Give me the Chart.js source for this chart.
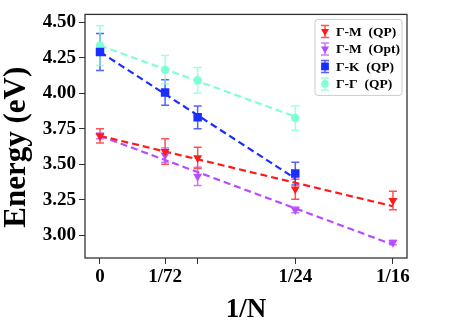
<!DOCTYPE html>
<html>
<head>
<meta charset="utf-8">
<script src="https://cdn.jsdelivr.net/npm/chart.js@4.4.1/dist/chart.umd.min.js"></script>
<style>
  html, body { margin: 0; padding: 0; background: #fff; }
  #wrap { width: 463px; height: 326px; }
</style>
</head>
<body>
<div id="wrap"><canvas id="chart" width="463" height="326"></canvas></div>
<script>
// x positions are 1/N
const nValues = [0, 1/72, 1/48, 1/24, 1/16];
const xTickValues = [0, 1/72, 1/48, 1/24, 1/16];
const xTickLabels = ['0', '1/72', '', '1/24', '1/16'];
const yTickValues = [3.00, 3.25, 3.50, 3.75, 4.00, 4.25, 4.50];

const legendLabels = ['\u0393-M  (QP)', '\u0393-M  (Opt)', '\u0393-K  (QP)', '\u0393-\u0393  (QP)'];
const yTitle = 'Energy (eV)';

// Γ-M (QP)
const gmQP = [3.70, 3.59, 3.545, 3.325, 3.245];
const gmQPErr = [0.05, 0.09, 0.075, 0.07, 0.065];
// Γ-M (Opt)
const gmOpt = [3.70, 3.565, 3.415, 3.18, 2.95];
const gmOptErr = [0.02, 0.05, 0.065, 0.02, 0.015];
// Γ-K (QP), only up to 1/24
const gkQP = [4.29, 4.005, 3.83, 3.435];
const gkQPErr = [0.13, 0.09, 0.08, 0.08];
// Γ-Γ (QP), only up to 1/24
const ggQP = [4.335, 4.165, 4.09, 3.825];
const ggQPErr = [0.14, 0.10, 0.09, 0.085];

// dashed fit lines: end points
const gmQPFitX = [0, 1/16], gmQPFit = [3.70, 3.205];
const gmOptFitX = [0, 1/16], gmOptFit = [3.70, 2.935];
const gkFitX = [0, 1/24], gkFit = [4.29, 3.40];
const ggFitX = [0, 1/24], ggFit = [4.335, 3.835];

const RED = '#ff1a1a', PURPLE = '#b84dff', BLUE = '#1a2eff', CYAN = '#80ffd6';
const SERIF = '"Liberation Serif", "DejaVu Serif", serif';

function pts(xs, ys) {
    return ys.map((y, i) => ({ x: xs[i], y: y }));
}

const series = [
    { label: legendLabels[0], data: gmQP, err: gmQPErr, color: RED, style: 'triangle', rot: 180, r: 5.2 },
    { label: legendLabels[1], data: gmOpt, err: gmOptErr, color: PURPLE, style: 'triangle', rot: 180, r: 5.2 },
    { label: legendLabels[2], data: gkQP, err: gkQPErr, color: BLUE, style: 'rect', rot: 0, r: 6 },
    { label: legendLabels[3], data: ggQP, err: ggQPErr, color: CYAN, style: 'circle', rot: 0, r: 4.3 }
];

const fits = [
    { x: gmQPFitX, y: gmQPFit, color: RED },
    { x: gmOptFitX, y: gmOptFit, color: PURPLE },
    { x: gkFitX, y: gkFit, color: BLUE },
    { x: ggFitX, y: ggFit, color: CYAN }
];

const datasets = [];
series.forEach(s => {
    datasets.push({
        label: s.label,
        data: pts(nValues, s.data),
        errors: s.err,
        backgroundColor: s.color,
        borderColor: s.color,
        borderWidth: 0,
        pointStyle: s.style,
        rotation: s.rot,
        pointRadius: s.r,
        showLine: false
    });
});
fits.forEach(f => {
    datasets.push({
        label: 'fit',
        data: pts(f.x, f.y),
        borderColor: f.color,
        borderWidth: 2.2,
        borderDash: [7, 4],
        pointRadius: 0,
        showLine: true
    });
});

function hexAlpha(hex, a) {
    const n = parseInt(hex.slice(1), 16);
    return `rgba(${n >> 16},${(n >> 8) & 255},${n & 255},${a})`;
}

function drawErrorBar(ctx, x, yTop, yBot, color) {
    ctx.save();
    ctx.strokeStyle = hexAlpha(color, 0.75);
    ctx.lineWidth = 1.5;
    ctx.beginPath();
    ctx.moveTo(x, yTop); ctx.lineTo(x, yBot);
    ctx.moveTo(x - 4, yTop); ctx.lineTo(x + 4, yTop);
    ctx.moveTo(x - 4, yBot); ctx.lineTo(x + 4, yBot);
    ctx.stroke();
    ctx.restore();
}

const errorBars = {
    id: 'errorBars',
    beforeDatasetsDraw(chart) {
        const ctx = chart.ctx;
        const xs = chart.scales.x, ys = chart.scales.y;
        chart.data.datasets.forEach(ds => {
            if (!ds.errors) return;
            ds.data.forEach((p, i) => {
                const px = xs.getPixelForValue(p.x);
                drawErrorBar(ctx, px, ys.getPixelForValue(p.y + ds.errors[i]),
                    ys.getPixelForValue(p.y - ds.errors[i]), ds.borderColor);
            });
        });
    },
    afterDraw(chart) {
        const ctx = chart.ctx;
        const a = chart.chartArea;
        ctx.save();
        ctx.strokeStyle = '#333';
        ctx.lineWidth = 1.3;
        ctx.strokeRect(a.left, a.top, a.right - a.left, a.bottom - a.top);

        // y axis title, sits a little below the middle of the plot
        ctx.save();
        ctx.translate(17, a.top + (a.bottom - a.top) / 2 + 11);
        ctx.rotate(-Math.PI / 2);
        ctx.font = 'bold 31px ' + SERIF;
        ctx.fillStyle = '#000';
        ctx.textAlign = 'center';
        ctx.textBaseline = 'middle';
        ctx.fillText(yTitle, 0, 0);
        ctx.restore();

        // legend box in the upper right of the plot
        const bx = a.right - 92, by = a.top + 5, bw = 87, bh = 76;
        ctx.strokeStyle = '#cccccc';
        ctx.lineWidth = 1;
        ctx.fillStyle = 'rgba(255,255,255,0.8)';
        ctx.beginPath();
        ctx.roundRect(bx, by, bw, bh, 3);
        ctx.fill();
        ctx.stroke();

        ctx.font = 'bold 13.5px ' + SERIF;
        ctx.textBaseline = 'middle';
        series.forEach((s, i) => {
            const cy = by + 12 + i * 17.5;
            const mx = bx + 10;
            drawErrorBar(ctx, mx, cy - 6, cy + 6, s.color);
            ctx.fillStyle = s.color;
            ctx.strokeStyle = s.color;
            Chart.helpers.drawPoint(ctx, {
                pointStyle: s.style, rotation: s.rot, radius: s.r - 0.5,
                borderWidth: 0
            }, mx, cy);
            ctx.fillStyle = '#000';
            ctx.fillText(s.label, bx + 21, cy + 1);
        });
        ctx.restore();
    }
};

new Chart(document.getElementById('chart'), {
    type: 'scatter',
    data: { datasets: datasets },
    options: {
        responsive: false,
        devicePixelRatio: 1,
        animation: false,
        layout: { padding: { top: 2, right: 56, left: 0, bottom: 0 } },
        plugins: {
            legend: { display: false },
            tooltip: { enabled: false }
        },
        scales: {
            x: {
                type: 'linear',
                min: -0.0032,
                max: 0.0655,
                afterFit: s => { s.height = 68; },
                afterBuildTicks: s => { s.ticks = xTickValues.map(v => ({ value: v })); },
                ticks: {
                    color: '#000',
                    padding: 2,
                    maxRotation: 0,
                    autoSkip: false,
                    font: { family: SERIF, size: 19, weight: 'bold' },
                    callback: (v, i) => xTickLabels[i]
                },
                grid: { drawOnChartArea: false, drawTicks: true, tickLength: 6, color: '#333' },
                border: { display: false },
                title: {
                    display: true,
                    text: '1/N',
                    color: '#000',
                    padding: { top: 0, bottom: 0 },
                    font: { family: SERIF, size: 27, weight: 'bold' }
                }
            },
            y: {
                min: 2.841,
                max: 4.554,
                afterFit: s => { s.width = 85; },
                afterBuildTicks: s => { s.ticks = yTickValues.map(v => ({ value: v })); },
                ticks: {
                    color: '#000',
                    padding: 3,
                    font: { family: SERIF, size: 19, weight: 'bold' },
                    callback: v => v.toFixed(2)
                },
                grid: { drawOnChartArea: false, drawTicks: true, tickLength: 6, color: '#333' },
                border: { display: false }
            }
        }
    },
    plugins: [errorBars]
});
</script>
</body>
</html>
